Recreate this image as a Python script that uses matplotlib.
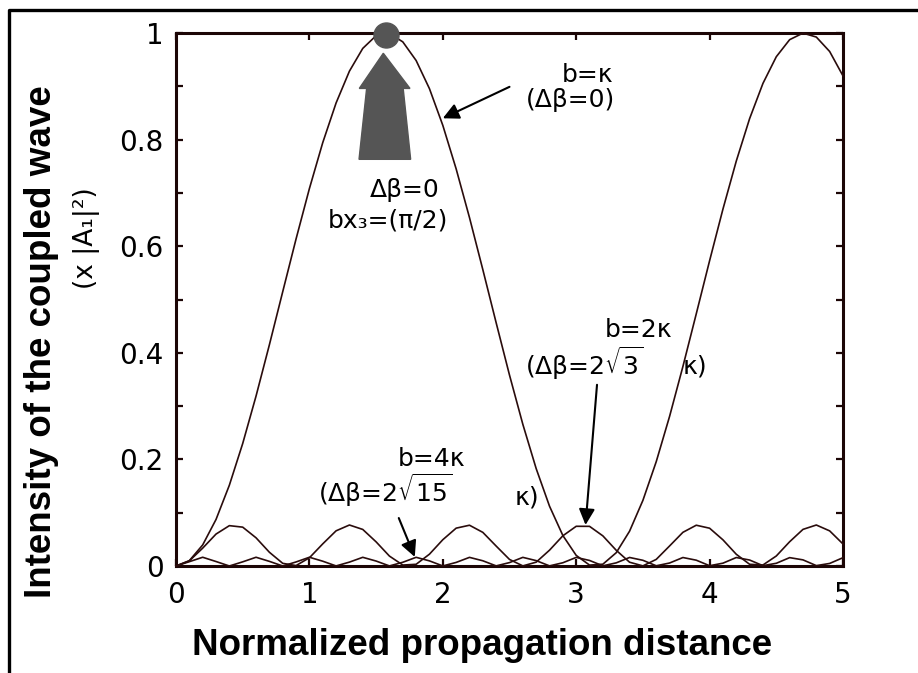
import matplotlib
matplotlib.use('Agg')
import matplotlib.pyplot as plt
from matplotlib.lines import Line2D
from matplotlib.patches import Polygon

# sampled propagation distance (step 0.1)
distance = [0.0, 0.1, 0.2, 0.3, 0.4, 0.5, 0.6, 0.7, 0.8, 0.9,
            1.0, 1.1, 1.2, 1.3, 1.4, 1.5, 1.6, 1.7, 1.8, 1.9,
            2.0, 2.1, 2.2, 2.3, 2.4, 2.5, 2.6, 2.7, 2.8, 2.9,
            3.0, 3.1, 3.2, 3.3, 3.4, 3.5, 3.6, 3.7, 3.8, 3.9,
            4.0, 4.1, 4.2, 4.3, 4.4, 4.5, 4.6, 4.7, 4.8, 4.9,
            5.0]

# b = kappa (delta beta = 0)
intensity_b1 = [0.0000, 0.0100, 0.0395, 0.0873, 0.1516, 0.2298, 0.3188, 0.4150, 0.5146, 0.6136,
                0.7081, 0.7943, 0.8687, 0.9284, 0.9711, 0.9950, 0.9991, 0.9834, 0.9484, 0.8955,
                0.8268, 0.7451, 0.6537, 0.5561, 0.4563, 0.3582, 0.2658, 0.1827, 0.1122, 0.0572,
                0.0199, 0.0017, 0.0034, 0.0249, 0.0653, 0.1231, 0.1958, 0.2807, 0.3744, 0.4731,
                0.5728, 0.6696, 0.7597, 0.8394, 0.9055, 0.9555, 0.9875, 0.9998, 0.9924, 0.9653,
                0.9195]

# b = 2 kappa
intensity_b2 = [0.0000, 0.0096, 0.0335, 0.0599, 0.0757, 0.0729, 0.0529, 0.0258, 0.0050, 0.0008,
                0.0154, 0.0415, 0.0660, 0.0769, 0.0686, 0.0453, 0.0186, 0.0018, 0.0032, 0.0222,
                0.0493, 0.0710, 0.0765, 0.0631, 0.0374, 0.0123, 0.0002, 0.0072, 0.0297, 0.0567,
                0.0745, 0.0744, 0.0565, 0.0295, 0.0071, 0.0002, 0.0124, 0.0376, 0.0632, 0.0765,
                0.0709, 0.0491, 0.0220, 0.0032, 0.0019, 0.0188, 0.0455, 0.0687, 0.0769, 0.0659,
                0.0413]

# b = 4 kappa
intensity_b4 = [0.0000, 0.0081, 0.0164, 0.0084, 0.0000, 0.0078, 0.0164, 0.0087, 0.0000, 0.0076,
                0.0164, 0.0090, 0.0001, 0.0073, 0.0163, 0.0093, 0.0001, 0.0070, 0.0163, 0.0096,
                0.0001, 0.0067, 0.0162, 0.0098, 0.0002, 0.0064, 0.0162, 0.0101, 0.0002, 0.0061,
                0.0161, 0.0104, 0.0003, 0.0059, 0.0160, 0.0107, 0.0004, 0.0056, 0.0159, 0.0109,
                0.0005, 0.0053, 0.0159, 0.0112, 0.0006, 0.0051, 0.0157, 0.0115, 0.0007, 0.0048,
                0.0156]

x_ticks = [0, 1, 2, 3, 4, 5]
y_ticks = [0, 0.2, 0.4, 0.6, 0.8, 1.0]
y_tick_labels = ['0', '0.2', '0.4', '0.6', '0.8', '1']
y_minor = [0.1, 0.3, 0.5, 0.7, 0.9]

W, H = 918, 673
line_color = '#2a0c0c'
spine_color = '#1c0606'
text_font = 'DejaVu Sans'
label_font = 'Liberation Sans'

fig = plt.figure(figsize=(W / 100, H / 100), dpi=100)
ax = fig.add_axes([176 / W, 1 - 566 / H, (843 - 176) / W, (566 - 33) / H])

for ys in (intensity_b1, intensity_b2, intensity_b4):
    ax.plot(distance, ys, color=line_color, lw=1.2, clip_on=False, zorder=3)

ax.set_xlim(0, 5)
ax.set_ylim(0, 1)
ax.set_xticks(x_ticks)
ax.set_yticks(y_ticks)
ax.set_yticklabels(y_tick_labels)
ax.set_yticks(y_minor, minor=True)

for sp in ax.spines.values():
    sp.set_linewidth(2.2)
    sp.set_color(spine_color)

ax.tick_params(which='both', direction='in', top=True, right=True,
               length=5, width=1.6, color=spine_color)
ax.tick_params(axis='x', labelsize=20, pad=11)
ax.tick_params(axis='y', labelsize=20, pad=9)
for lab in ax.get_xticklabels() + ax.get_yticklabels():
    lab.set_family(text_font)

# gray dot and fat arrow at the first maximum
ax.plot([1.571], [0.997], marker='o', markersize=18, color='#555555',
        clip_on=False, zorder=5)
ax.add_patch(Polygon([(1.372, 0.763), (1.429, 0.896), (1.374, 0.896), (1.554, 0.962),
                      (1.754, 0.896), (1.703, 0.896), (1.759, 0.763)],
                     closed=True, color='#555555', zorder=4))

fs = 18
ax.text(1.979, 0.705, 'Δβ=0', ha='right', va='center', fontsize=fs, family=text_font)
ax.text(2.039, 0.649, 'bx₃=(π/2)', ha='right', va='center', fontsize=fs, family=text_font)

ax.text(3.276, 0.921, 'b=κ', ha='right', va='center', fontsize=fs, family=text_font)
ax.text(3.29, 0.874, '(Δβ=0)', ha='right', va='center', fontsize=fs, family=text_font)

ax.text(3.718, 0.443, 'b=2κ', ha='right', va='center', fontsize=fs, family=text_font)
ax.text(2.616, 0.381, r'(Δβ=2$\sqrt{3}$', ha='left', va='center', fontsize=fs, family=text_font)
ax.text(3.80, 0.375, 'κ)', ha='left', va='center', fontsize=fs, family=text_font)

ax.text(2.166, 0.200, 'b=4κ', ha='right', va='center', fontsize=fs, family=text_font)
ax.text(1.064, 0.143, r'(Δβ=2$\sqrt{15}$', ha='left', va='center', fontsize=fs, family=text_font)
ax.text(2.541, 0.129, 'κ)', ha='left', va='center', fontsize=fs, family=text_font)

arrow_kw = dict(arrowstyle='-|>', color='black', lw=1.5, mutation_scale=24,
                shrinkA=0, shrinkB=0)
ax.annotate('', xy=(2.0, 0.84), xytext=(2.50, 0.899), arrowprops=arrow_kw)
ax.annotate('', xy=(3.07, 0.077), xytext=(3.156, 0.340), arrowprops=arrow_kw)
ax.annotate('', xy=(1.79, 0.017), xytext=(1.67, 0.09), arrowprops=arrow_kw)

# axis titles
fig.text(482 / W, 1 - 655 / H, 'Normalized propagation distance', ha='center', va='baseline',
         fontsize=26.5, fontweight='bold', family=label_font)
fig.text(42 / W, 1 - 342 / H, 'Intensity of the coupled wave', ha='center', va='center',
         rotation=90, fontsize=26.5, fontweight='bold', family=label_font)
fig.text(86 / W, 1 - 238 / H, '(x |A₁|²)', ha='center', va='center',
         rotation=90, fontsize=19, family=text_font)

# outer frame (open on right and bottom)
fig.add_artist(Line2D([8.5 / W, 8.5 / W, 1.0], [0.0, 1 - 10 / H, 1 - 10 / H],
                      transform=fig.transFigure, color='black', lw=2.4))

fig.savefig('out.png', dpi=100)
